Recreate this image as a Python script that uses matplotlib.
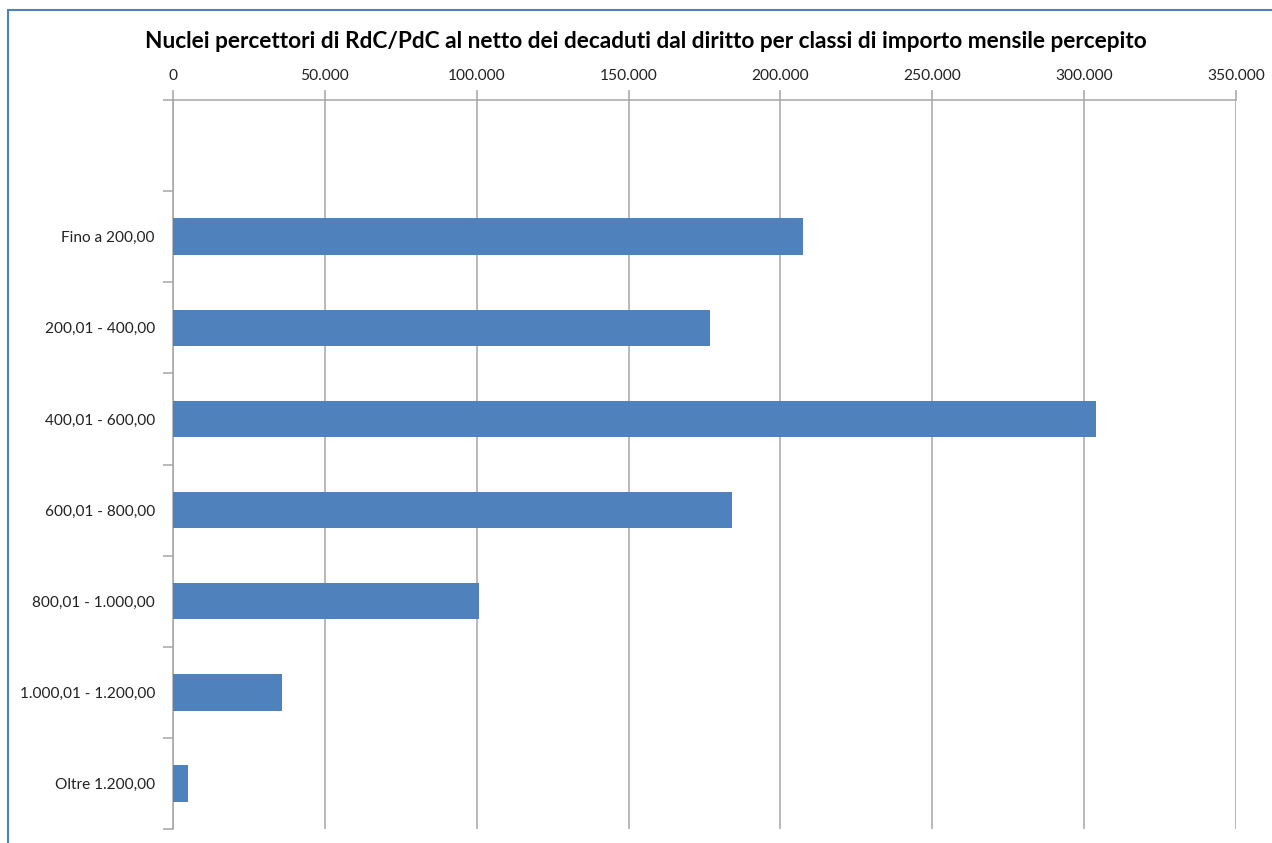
import matplotlib.pyplot as plt
from matplotlib.patches import Rectangle
from matplotlib.ticker import FuncFormatter
import numpy as np

plt.rcParams['font.family'] = ['Lato', 'DejaVu Sans']

classes = ["Fino a 200,00", "200,01 - 400,00", "400,01 - 600,00", "600,01 - 800,00",
           "800,01 - 1.000,00", "1.000,01 - 1.200,00", "Oltre 1.200,00"]
nuclei = [207400, 176800, 303900, 184000, 100800, 35900, 4900]

fig = plt.figure(figsize=(12.72, 8.43), dpi=100)
ax = fig.add_axes([173 / 1272, 1 - 829 / 843, (1236 - 173) / 1272, (829 - 100) / 843])

y = np.arange(len(classes))
ax.barh(y, nuclei, height=0.4, color="#4f81bd", zorder=3)

ax.set_xlim(0, 350000)
ax.set_ylim(len(classes) - 0.5, -1.5)
ax.xaxis.tick_top()
ax.set_xticks(np.arange(0, 350001, 50000))
ax.xaxis.set_major_formatter(FuncFormatter(lambda v, p: f"{int(v):,}".replace(",", ".")))
ax.grid(axis="x", color="#a6a6a6", linewidth=1.1, zorder=0)

ax.set_yticks(y)
ax.set_yticklabels(classes)
ax.set_yticks(np.arange(-1.5, len(classes), 1.0), minor=True)
ax.tick_params(axis="y", which="major", length=0, pad=13, labelsize=11.1, labelcolor="#222222")
ax.tick_params(axis="y", which="minor", length=7, color="#a6a6a6", width=1.1)
ax.tick_params(axis="x", length=7, color="#a6a6a6", width=1.1, labelsize=11.2,
               labelcolor="#222222", pad=5)

for s in ["right", "bottom"]:
    ax.spines[s].set_visible(False)
for s in ["left", "top"]:
    ax.spines[s].set_color("#a6a6a6")
    ax.spines[s].set_linewidth(1.1)

fig.text(0.508, 1 - 42 / 843, "Nuclei percettori di RdC/PdC al netto dei decaduti dal diritto per classi di importo mensile percepito",
         ha="center", va="center", fontsize=16.3, fontweight="bold")

fig.patches.append(Rectangle((8 / 1272, -0.1), 1.2, 1 - 10 / 843 + 0.1, transform=fig.transFigure,
                             fill=False, edgecolor="#4f81bd", linewidth=1.5))

fig.savefig("out.png", dpi=100)
